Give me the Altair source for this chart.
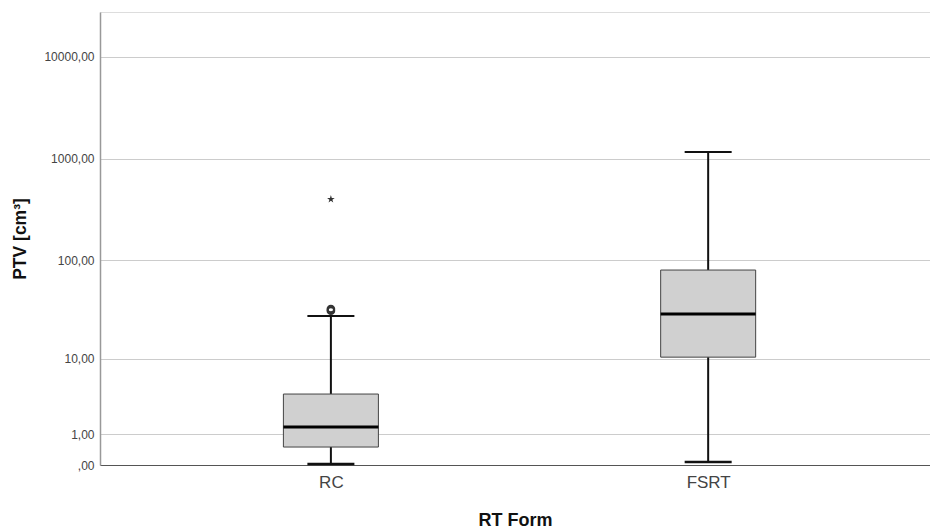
import altair as alt
import pandas as pd

groups = ["RC", "FSRT"]
whisker_low = [0.02, 0.07]
q1 = [0.50, 10.4]
median = [1.36, 29.2]
q3 = [3.96, 80.4]
whisker_high = [27.8, 1165.0]

outlier_group = ["RC", "RC"]
outlier_value = [31.5, 32.8]
extreme_group = ["RC"]
extreme_value = [402.0]

y_ticks = [0, 1, 10, 100, 1000, 10000]

box_df = pd.DataFrame({
    "group": groups, "lo": whisker_low, "q1": q1, "med": median,
    "q3": q3, "hi": whisker_high,
})
out_df = pd.DataFrame({"group": outlier_group, "v": outlier_value})
ext_df = pd.DataFrame({"group": extreme_group, "v": extreme_value})

FONT = "Liberation Sans"
yscale = alt.Scale(type="symlog", constant=1, domain=[0, 27500], nice=False, zero=False)
xscale = alt.Scale(type="point", domain=groups, padding=0.6, align=0.51)

x_enc = alt.X("group:N", scale=xscale, sort=groups, title="RT Form",
              axis=alt.Axis(labelAngle=0, ticks=False, grid=False, labelFontSize=17,
                            labelColor="#444", labelPadding=9, labelFont=FONT,
                            titleFont=FONT, titleFontSize=18, titleFontWeight="bold",
                            titleColor="#111", titleY=55, titleBaseline="middle",
                            domainColor="#555", domainWidth=1.2))

y_axis = alt.Axis(values=y_ticks, ticks=False, grid=True, gridColor="#cccccc",
                  gridWidth=1, labelFontSize=12, labelColor="#444", labelFont=FONT,
                  labelPadding=6,
                  labelExpr="datum.value == 0 ? ',00' : replace(format(datum.value, '.2f'), '.', ',')",
                  title="PTV [cm³]", titleFont=FONT, titleFontSize=17.5,
                  titleFontWeight="bold", titleColor="#111", titleX=-80,
                  titleBaseline="middle", domainColor="#999", domainWidth=1.5)

base = alt.Chart(box_df)

whisk = base.mark_rule(color="#111", strokeWidth=2).encode(
    x=x_enc,
    y=alt.Y("lo:Q", scale=yscale, axis=y_axis),
    y2="hi:Q",
)
caps_hi = base.mark_tick(color="#111", size=47, thickness=2, opacity=1).encode(
    x=alt.X("group:N", scale=xscale, sort=groups),
    y=alt.Y("hi:Q", scale=yscale),
)
caps_lo = base.mark_tick(color="#111", size=47, thickness=2.5, opacity=1).encode(
    x=alt.X("group:N", scale=xscale, sort=groups),
    y=alt.Y("lo:Q", scale=yscale),
)
box = base.mark_bar(size=95, color="#d0d0d0", stroke="#444", strokeWidth=1).encode(
    x=alt.X("group:N", scale=xscale, sort=groups),
    y=alt.Y("q1:Q", scale=yscale),
    y2="q3:Q",
)
med = base.mark_tick(color="#000", size=95, thickness=3, opacity=1).encode(
    x=alt.X("group:N", scale=xscale, sort=groups),
    y=alt.Y("med:Q", scale=yscale),
)
outs = alt.Chart(out_df).mark_point(shape="circle", filled=False, color="#333",
                                     strokeWidth=2, size=45, opacity=1).encode(
    x=alt.X("group:N", scale=xscale, sort=groups),
    y=alt.Y("v:Q", scale=yscale),
)
star_path = ("M0,-1L0.2245,-0.309L0.951,-0.309L0.363,0.118L0.588,0.809L0,0.382"
             "L-0.588,0.809L-0.363,0.118L-0.951,-0.309L-0.2245,-0.309Z")
ext = alt.Chart(ext_df).mark_point(shape=star_path, filled=True, color="#333",
                                    size=65, opacity=1).encode(
    x=alt.X("group:N", scale=xscale, sort=groups),
    y=alt.Y("v:Q", scale=yscale),
)

chart = alt.layer(whisk, caps_hi, caps_lo, box, med, outs, ext).properties(
    width=830, height=453,
    autosize=alt.AutoSizeParams(type="none"),
    padding={"left": 100, "top": 12, "right": 0, "bottom": 65},
).configure_view(stroke=None).configure(background="white")

chart.save("out.html", embed_options={"renderer": "svg", "actions": False})
